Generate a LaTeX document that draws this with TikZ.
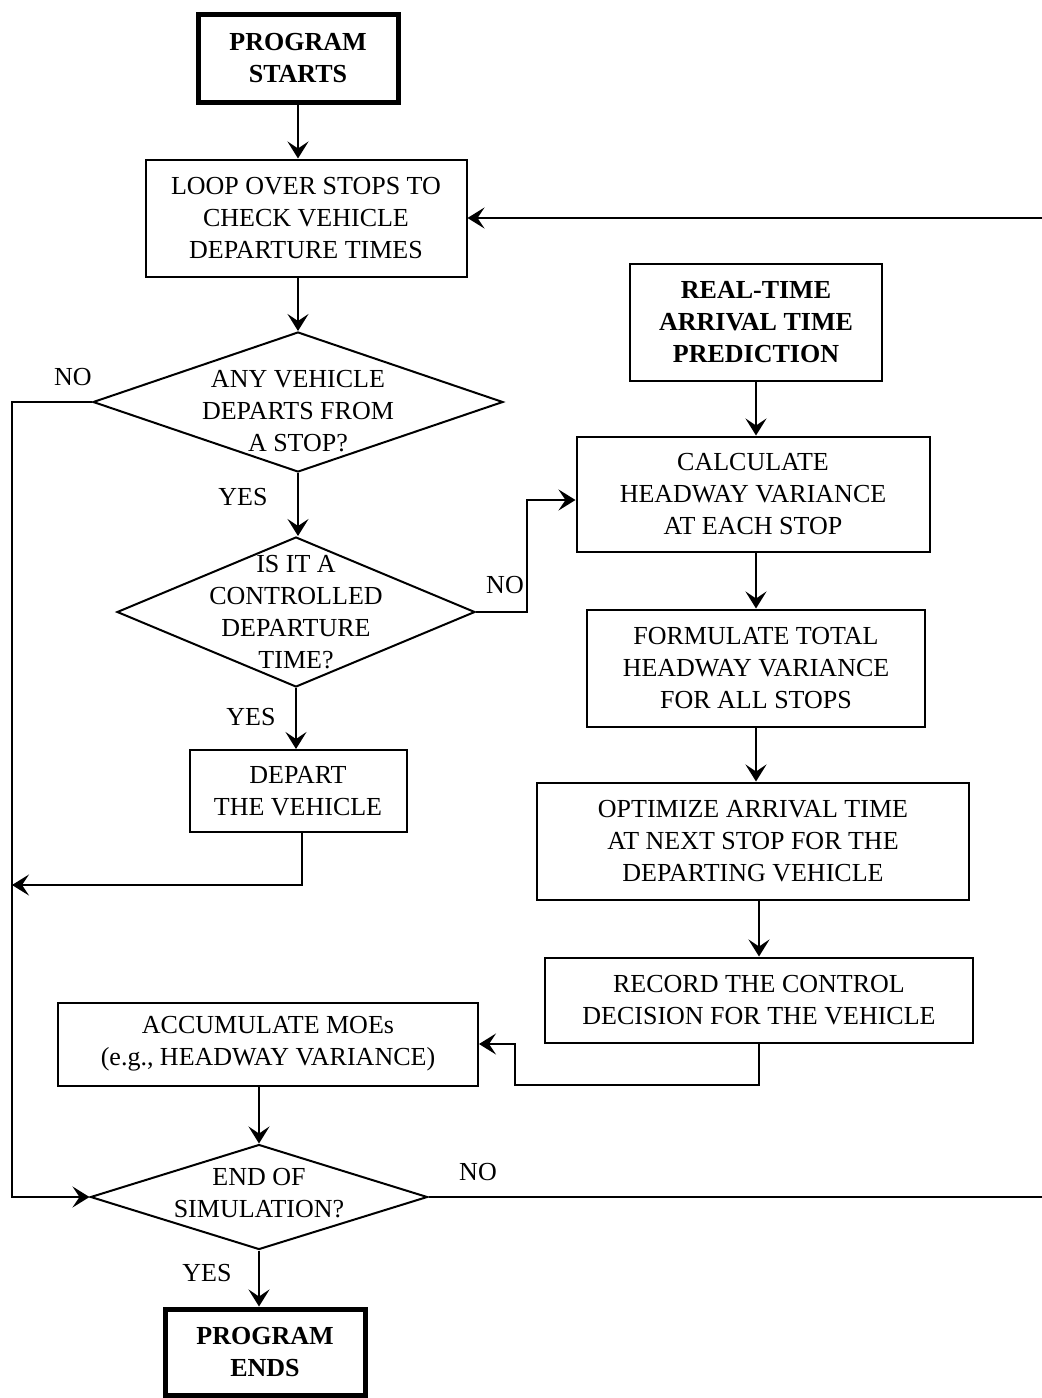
\documentclass[tikz,border=0pt]{standalone}
\usepackage{fontspec}
\setmainfont{Liberation Serif}
\usetikzlibrary{arrows.meta,shapes.geometric}
\begin{document}
\begin{tikzpicture}[x=0.5pt,y=-0.5pt,
  every node/.style={font=\fontsize{13}{16}\selectfont},
  arr/.style={line width=1pt,-{Stealth[length=8.5pt,width=10.5pt,inset=3.5pt]}},
  procbox/.style={draw,line width=1pt,align=center,inner sep=0pt},
  termbox/.style={draw,line width=2.5pt,align=center,inner sep=0pt,font=\fontsize{13}{16}\selectfont\bfseries},
  decision/.style={draw,diamond,line width=1pt,inner sep=0pt},
  dtext/.style={align=center,inner sep=0pt},
  tag/.style={inner sep=0pt}]
\useasboundingbox (0,0) rectangle (1042,1398);

% left column
\node[termbox,minimum width=100pt,minimum height=44pt] (start) at (298,58) {PROGRAM\\STARTS};
\node[procbox,minimum width=160.5pt,minimum height=58.5pt] (loop) at (306,218) {LOOP OVER STOPS TO\\CHECK VEHICLE\\ DEPARTURE TIMES};
\node[decision,minimum width=205pt,minimum height=70pt] (d1) at (298,402) {};
\node[dtext] (d1t) at (298,411) {ANY VEHICLE\\DEPARTS FROM\\A STOP?};
\node[decision,minimum width=179pt,minimum height=75pt] (d2) at (296,612) {};
\node[dtext] (d2t) at (296,612) {IS IT A\\CONTROLLED\\DEPARTURE\\TIME?};
\node[procbox,minimum width=108.5pt,minimum height=41pt] (depart) at (298,791) {DEPART\\THE VEHICLE};
\node[procbox,minimum width=210pt,minimum height=41.5pt] (acc) at (268,1044) {ACCUMULATE MOEs\\(e.g., HEADWAY VARIANCE)};
\node[decision,minimum width=168.5pt,minimum height=52.5pt] (d3) at (259,1197) {};
\node[dtext] (d3t) at (259,1193) {END OF\\SIMULATION?};
\node[termbox,minimum width=100pt,minimum height=43pt] (stop) at (265,1352) {PROGRAM\\ENDS};

% right column
\node[procbox,minimum width=126pt,minimum height=58.5pt,font=\fontsize{13}{16}\selectfont\bfseries] (rt) at (756,322) {REAL-TIME\\ARRIVAL TIME\\PREDICTION};
\node[procbox,minimum width=176.5pt,minimum height=57.5pt] (calc) at (753,494) {CALCULATE\\HEADWAY VARIANCE\\AT EACH STOP};
\node[procbox,minimum width=169pt,minimum height=58.5pt] (form) at (756,668) {FORMULATE TOTAL\\HEADWAY VARIANCE\\FOR ALL STOPS};
\node[procbox,minimum width=216pt,minimum height=58.5pt] (opt) at (753,841) {OPTIMIZE ARRIVAL TIME\\AT NEXT STOP FOR THE\\DEPARTING VEHICLE};
\node[procbox,minimum width=214pt,minimum height=42.5pt] (rec) at (759,1000) {RECORD THE CONTROL\\DECISION FOR THE VEHICLE};

% branch labels
\node[tag] (no1) at (73,377) {NO};
\node[tag] (yes1) at (243,497) {YES};
\node[tag] (no2) at (505,585) {NO};
\node[tag] (yes2) at (251,717) {YES};
\node[tag] (no3) at (478,1172) {NO};
\node[tag] (yes3) at (207,1273) {YES};

% helper points for the routed connectors
\coordinate (lrail) at (12,1197);
\coordinate (djoin) at (12,885);
\coordinate (nrail) at (527,500);
\coordinate (rjog) at (515,1085);
\coordinate (rrail) at (1046,1197);

% main flow
\draw[arr] (start.south) -- (start.south |- loop.north);
\draw[arr] (d1.north |- loop.south) -- (d1.north);
\draw[arr] (d1.south) -- (d1.south |- d2.north);
\draw[arr] (d2.south) -- (d2.south |- depart.north);
\draw[arr] ([xshift=2pt]depart.south) |- (djoin);
\draw[arr] (d1.west) -- (d1.west -| lrail) -- (lrail) -- (d3.west);
\draw[arr] (d2.east) -- (d2.east -| nrail) -- (nrail) -- (nrail -| calc.west);
\draw[arr] (rt.south) -- (rt.south |- calc.north);
\draw[arr] (rt.south |- calc.south) -- (rt.south |- form.north);
\draw[arr] (rt.south |- form.south) -- (rt.south |- opt.north);
\draw[arr] (rec.north |- opt.south) -- (rec.north);
\draw[arr] (rec.south) |- (rjog) |- (acc.east);
\draw[arr] (d3.north |- acc.south) -- (d3.north);
\draw[arr] (d3.east) -- (rrail) |- (loop.east);
\draw[arr] (d3.south) -- (d3.south |- stop.north);
\end{tikzpicture}
\end{document}
